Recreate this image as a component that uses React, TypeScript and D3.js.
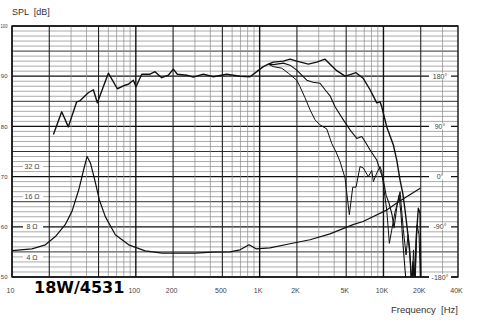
import React from "react";
import * as d3 from "d3";

// ---------- data ----------
const freqTicks = [10, 100, 200, 500, 1000, 2000, 5000, 10000, 20000, 40000];
const freqTickLabels = ["10", "100", "200", "500", "1K", "2K", "5K", "10K", "20K", "40K"];
const splTicks = [50, 60, 70, 80, 90, 100];
const phaseTicks = [180, 90, 0, -90, -180];
const phaseTickLabels = ["180°", "90°", "0°", "-90°", "-180°"];
const ohmTicks = [32, 16, 8, 4];
const ohmTickLabels = ["32 Ω", "16 Ω", "8 Ω", "4 Ω"];

// on-axis SPL (Hz, dB)
const onAxisFreq = [21.6, 25.2, 28.5, 33.3, 35.4, 41.3, 45.4, 48.9, 60.0, 70.9, 81.8, 87.0, 95.5, 100.4, 111.6, 130.2, 142.9, 161.9, 183, 200.9, 216.3, 257.7, 291.4, 351, 423, 542, 695, 837, 948, 1071, 1176, 1290, 1554, 1760, 1994, 2474, 2892, 3376, 3705, 4196, 4896, 5373, 6006, 6842, 7796, 8828, 9387, 9689, 10635, 12023, 12809, 13616, 14316, 14943, 15600, 16190, 16555, 16930, 17340, 17830, 18330, 19130, 19750, 20120];
const onAxisDb = [78.4, 82.9, 79.9, 84.9, 85.1, 86.7, 87.3, 84.7, 90.6, 87.5, 88.2, 88.4, 89.2, 87.9, 90.4, 90.4, 90.9, 89.7, 90.2, 91.4, 90.4, 90.2, 89.8, 90.4, 89.9, 90.4, 90.0, 89.9, 90.9, 91.9, 92.4, 92.8, 93.0, 93.4, 93.0, 92.4, 92.8, 93.4, 92.4, 91.1, 90.0, 90.3, 90.7, 89.6, 87.3, 84.7, 84.9, 83.9, 79.9, 76.3, 73.3, 69.3, 66.7, 63.3, 59.4, 56.0, 52.4, 48, 53.0, 48, 57.4, 63.7, 62.7, 48];

// 30° off-axis SPL
const offAxis30Freq = [1176, 1290, 1554, 1760, 1994, 2403, 2700, 3075, 3376, 3705, 4065, 4744, 5373, 6085, 6677, 7103, 7796, 8828, 9387, 9980, 10495, 11097, 11733, 12180, 12880, 13366, 13873, 14397, 14943, 15370];
const offAxis30Db = [92.4, 92.3, 92.6, 92.2, 91.2, 89.2, 88.8, 88.6, 87.3, 86.1, 83.9, 81.3, 79.3, 77.6, 78.0, 77.0, 75.3, 73.3, 71.3, 69.3, 66.3, 64.7, 62.4, 59.8, 64.3, 66.3, 62.4, 56.4, 51.4, 48];

// 60° off-axis SPL
const offAxis60Freq = [1176, 1290, 1508, 1705, 1994, 2120, 2326, 2553, 2803, 3075, 3483, 3822, 4141, 4461, 4896, 5304, 5649, 6006, 6471, 6880, 7551, 8045, 8287, 8828, 9387, 9689, 10111, 10635, 11160, 11670, 12410, 13195, 13616, 14477, 15225, 15800, 16397, 16930, 17505, 17995, 18675, 19385, 19935];
const offAxis60Db = [92.4, 91.9, 91.6, 90.6, 89.2, 87.9, 85.7, 83.3, 81.3, 80.3, 79.5, 76.6, 74.9, 73.0, 69.7, 62.4, 67.9, 67.9, 72.0, 71.7, 70.0, 71.2, 69.0, 70.7, 72.0, 71.0, 67.3, 63.3, 56.7, 59.4, 63.0, 65.3, 67.0, 59.4, 54.4, 58.4, 54.0, 48, 55.4, 48, 60.4, 58.4, 48];

// impedance (Hz, ohm)
const impFreq = [10, 14.5, 18.6, 22.4, 26.9, 30.5, 34.6, 37.9, 40.4, 42.9, 46.6, 50.7, 56.7, 68.3, 87.6, 119, 163, 302, 413, 577, 695, 821, 935, 1210, 1760, 2550, 3700, 5680, 6840, 10700, 12900, 19800];
const impOhm = [4.64, 4.83, 5.29, 6.4, 8.4, 11.4, 18.7, 29.6, 40.2, 34.8, 23.5, 14.9, 10.1, 6.66, 5.29, 4.61, 4.38, 4.38, 4.48, 4.5, 4.72, 5.29, 4.83, 4.94, 5.42, 5.94, 6.81, 8.4, 9.03, 11.8, 13.9, 19.4];

// ---------- layout ----------
const W = 492;
const H = 326;
const L = 12, R = 458, T = 26, B = 277;

const x = d3.scaleLog().domain([10, 40000]).range([L, R]);
const y = d3.scaleLinear().domain([50, 100]).range([B, T]);
const yOhm = d3.scaleLog().domain([8 / Math.sqrt(10), 800]).range([B, T]);
const yPhase = d3.scaleLinear().domain([-180, 180]).range([y(50), y(90)]);

const zip = (fs: number[], vs: number[]) => fs.map((f, i) => [f, vs[i]] as [number, number]);

export default function App() {
  const splLine = d3.line<[number, number]>().x((d) => x(d[0])).y((d) => y(d[1]));
  const ohmLine = d3.line<[number, number]>().x((d) => x(d[0])).y((d) => yOhm(d[1]));

  // vertical grid
  const vLines: { f: number; kind: number }[] = [];
  for (let dec = 10; dec <= 10000; dec *= 10) {
    for (let m = 1; m <= 9; m++) {
      const f = dec * m;
      if (f > 40000) break;
      vLines.push({ f, kind: m === 1 ? 2 : m === 2 || m === 5 ? 1 : 0 });
    }
  }
  const hLines = d3.range(50, 101, 1);

  const font = "'Liberation Sans', Arial, sans-serif";

  return (
    <svg width={W} height={H} style={{ position: "absolute", left: 0, top: 0, background: "#fff" }}>
      <rect x={0} y={0} width={W} height={H} fill="#fff" />
      <defs>
        <clipPath id="plot">
          <rect x={L} y={T} width={R - L} height={B - T} />
        </clipPath>
      </defs>
      {/* horizontal grid */}
      {hLines.map((v) => {
        const k = v % 10 === 0 ? 2 : v % 5 === 0 ? 1 : 0;
        return (
          <line key={"h" + v} x1={L} x2={R} y1={y(v)} y2={y(v)}
            stroke={k === 2 ? "#111" : k === 1 ? "#333" : "#707070"}
            strokeWidth={k === 2 ? 1.3 : k === 1 ? 1 : 0.6} />
        );
      })}
      {/* vertical grid */}
      {vLines.map((d) => (
        <line key={"v" + d.f} x1={x(d.f)} x2={x(d.f)} y1={T} y2={B}
          stroke={d.kind === 2 ? "#111" : d.kind === 1 ? "#222" : "#8a8a8a"}
          strokeWidth={d.kind === 2 ? 1.4 : d.kind === 1 ? 1.1 : 0.7} />
      ))}
      <rect x={L} y={T} width={R - L} height={B - T} fill="none" stroke="#111" strokeWidth={1.3} />

      {/* impedance labels */}
      {ohmTicks.map((o, i) => (
        <g key={"o" + o}>
          <rect x={x(10) + 11} y={yOhm(o) - 3} width={20} height={6} fill="#fff" />
          <text x={32} y={yOhm(o) + 2.5} fontSize={7} fontFamily={font} fill="#444" textAnchor="middle">{ohmTickLabels[i]}</text>
        </g>
      ))}
      {/* phase labels */}
      {phaseTicks.map((p, i) => (
        <g key={"p" + p}>
          <rect x={429} y={yPhase(p) - 3} width={22} height={6} fill="#fff" />
          <text x={440} y={yPhase(p) + 2.5} fontSize={7} fontFamily={font} fill="#444" textAnchor="middle">{phaseTickLabels[i]}</text>
        </g>
      ))}

      {/* curves */}
      <g clipPath="url(#plot)" fill="none" stroke="#111" strokeLinejoin="round">
        <path d={ohmLine(zip(impFreq, impOhm)) || ""} strokeWidth={1.2} />
        <path d={splLine(zip(offAxis60Freq, offAxis60Db)) || ""} strokeWidth={1} />
        <path d={splLine(zip(offAxis30Freq, offAxis30Db)) || ""} strokeWidth={1.1} />
        <path d={splLine(zip(onAxisFreq, onAxisDb)) || ""} strokeWidth={1.4} />
      </g>

      {/* axes labels */}
      {freqTicks.map((f, i) => (
        <text key={"f" + f} x={x(f) - 1.5} y={293} fontSize={7} fontFamily={font} fill="#444" textAnchor="middle">{freqTickLabels[i]}</text>
      ))}
      {splTicks.map((v) => (
        <text key={"s" + v} x={7.5} y={y(v) + 2.2} fontSize={6} fontFamily={font} fill="#444" textAnchor="end"
          {...(v >= 100 ? { textLength: 7, lengthAdjust: "spacingAndGlyphs" } : {})}>{v}</text>
      ))}
      <text x={12} y={15} fontSize={9} fontFamily={font} fill="#333" xmlSpace="preserve">SPL  [dB]</text>
      <text x={458} y={313} fontSize={9.5} fontFamily={font} fill="#333" textAnchor="end" xmlSpace="preserve">Frequency  [Hz]</text>
      <text x={34} y={293} fontSize={16} fontWeight="bold" fontFamily="'DejaVu Sans', sans-serif" fill="#000">18W/4531</text>
    </svg>
  );
}
